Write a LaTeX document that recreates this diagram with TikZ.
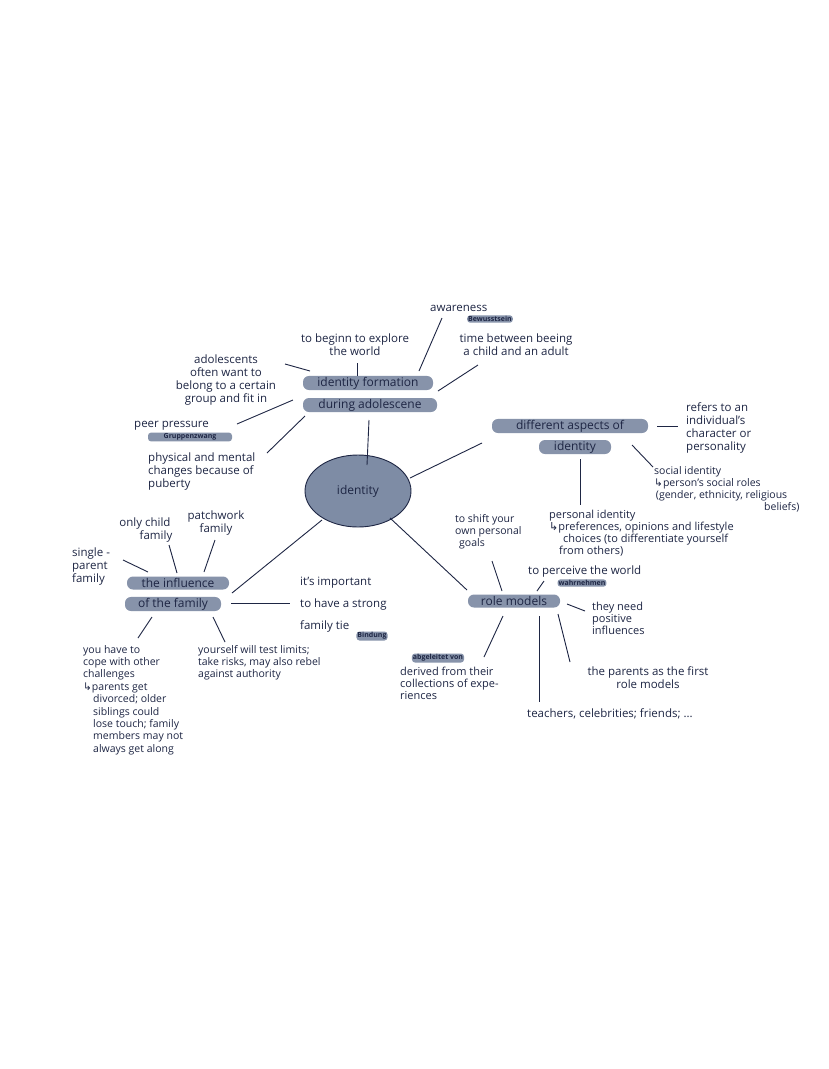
\documentclass[tikz,border=0pt]{standalone}
\usepackage{fontspec}
\usetikzlibrary{shapes.geometric}
\setmainfont{Open Sans}
\newfontfamily\sym{DejaVu Sans}
\definecolor{ink}{HTML}{1E2644}
\definecolor{hl}{HTML}{8793AA}
\definecolor{ell}{HTML}{7E8CA5}
\newcommand{\arr}{{\sym ↳}}
\begin{document}
\begin{tikzpicture}[x=1pt,y=-1pt,
  txt/.style={text=ink,font=\fontsize{11.5}{13}\selectfont,inner sep=0pt,align=left},
  ctxt/.style={txt,align=center},
  hlbox/.style={fill=hl,rounded corners=6pt,text=ink,font=\fontsize{12}{12}\selectfont,inner ysep=1pt,inner xsep=0pt,minimum height=13pt},
  smallhl/.style={fill=hl,rounded corners=3pt,text=ink,font=\fontsize{7}{7}\selectfont\bfseries,inner sep=1pt},
  ln/.style={draw=ink,line width=0.9pt}]
\useasboundingbox (0,0) rectangle (828,1069);
\fill[white] (0,0) rectangle (828,1069);
% centre
\node[ellipse,draw=ink,line width=0.9pt,fill=ell,minimum width=106,minimum height=72,text=ink,font=\fontsize{12}{12}\selectfont] (id) at (358,491) {identity};
% main nodes
\node[hlbox,minimum width=130] (f1) at (368,383) {identity formation};
\node[hlbox,minimum width=134] (f2) at (370,405) {during adolescene};
\node[hlbox,minimum width=156] (a1) at (570,426) {different aspects of};
\node[hlbox,minimum width=72] (a2) at (575,447) {identity};
\node[hlbox,minimum width=102] (i1) at (178,583) {the influence};
\node[hlbox,minimum width=96] (i2) at (173,604) {of the family};
\node[hlbox,minimum width=92] (rm) at (514,601) {role models};
% texts
\node[txt,anchor=west] (aw) at (430,308) {awareness};
\node[smallhl] (bw) at (490,319) {Bewusstsein};
\node[ctxt] (tb) at (355,345) {to beginn to explore\\ the world};
\node[ctxt] (tm) at (516,345) {time between beeing\\ a child and an adult};
\node[ctxt] (ad) at (226,380) {adolescents\\often want to\\belong to a certain\\group and fit in};
\node[txt,anchor=west] (pp) at (134,426) {peer pressure};
\node[smallhl,minimum width=84] (gz) at (190,437) {Gruppenzwang};
\node[txt,anchor=west] (ph) at (148,472) {physical and mental\\changes because of\\puberty};
\node[txt,anchor=west] (rf) at (686,428) {refers to an\\individual's\\character or\\personality};
\node[txt,anchor=west,font=\fontsize{10.5}{12}\selectfont] (si) at (654,489) {social identity\\\arr person's social roles\\\,(gender, ethnicity, religious\\\hspace*{110pt}beliefs)};
\node[txt,anchor=west,font=\fontsize{10.5}{12}\selectfont] (sh) at (455,532) {to shift your\\own personal\\\hspace*{4pt}goals};
\node[txt,anchor=west,font=\fontsize{11}{12}\selectfont] (pi) at (549,533) {personal identity\\\arr preferences, opinions and lifestyle\\\hspace*{14pt}choices (to differentiate yourself\\\hspace*{10pt}from others)};
\node[txt,anchor=west] (pw) at (528,572) {to perceive the world};
\node[smallhl] (wn) at (582,583) {wahrnehmen};
\node[txt,anchor=west,font=\fontsize{11}{12}\selectfont] (tn) at (592,618) {they need\\positive\\influences};
\node[ctxt] (pa) at (648,678) {the parents as the first\\role models};
\node[ctxt] (te) at (610,714) {teachers, celebrities; friends; ...};
\node[smallhl] (ab) at (438,658) {abgeleitet von};
\node[txt,anchor=west,font=\fontsize{11}{12}\selectfont] (de) at (400,683) {derived from their\\collections of expe-\\riences};
\node[txt,anchor=west,font=\fontsize{11.5}{22}\selectfont] (it) at (300,605) {it's important\\to have a strong\\family tie};
\node[smallhl] (bi) at (372,636) {Bindung};
\node[txt,anchor=west,font=\fontsize{10.5}{12}\selectfont] (ys) at (198,663) {yourself will test limits;\\take risks, may also rebel\\against authority};
\node[txt,anchor=west,font=\fontsize{10.5}{12.4}\selectfont] (yh) at (83,700) {you have to\\cope with other\\challenges\\\arr parents get\\\hspace*{10pt}divorced; older\\\hspace*{10pt}siblings could\\\hspace*{10pt}lose touch; family\\\hspace*{10pt}members may not\\\hspace*{10pt}always get along};
\node[ctxt] (oc) at (145,530) {only child\\\hspace*{22pt}family};
\node[ctxt] (pf) at (216,523) {patchwork\\family};
\node[txt,anchor=west] (sp) at (72,567) {single -\\parent\\family};
% connector end points
\foreach \n/\p in {c1/{367,465},c2/{369,420},c3/{410,478},c4/{482,443},c5/{390,518},c6/{467,590},
  c7/{322,520},c8/{232,593},c9/{357,363},c10/{357,376},c11/{442,318},c12/{419,371},c13/{478,365},
  c14/{438,391},c15/{285,364},c16/{310,371},c17/{237,424},c18/{293,400},c19/{267,453},c20/{305,416},
  c21/{657,426},c22/{678,426},c23/{632,445},c24/{653,467},c25/{580,459},c26/{580,505},
  c27/{123,560},c28/{148,572},c29/{169,545},c30/{177,573},c31/{215,540},c32/{204,572},
  c33/{231,603},c34/{290,603},c35/{152,617},c36/{138,638},c37/{213,617},c38/{225,642},
  c39/{492,561},c40/{502,591},c41/{537,591},c42/{544,581},c43/{567,604},c44/{585,611},
  c45/{558,614},c46/{570,662},c47/{539,616},c48/{539,702},c49/{503,616},c50/{484,657}}
  \coordinate (\n) at (\p);
\foreach \a/\b in {c1/c2,c3/c4,c5/c6,c7/c8,c9/c10,c11/c12,c13/c14,c15/c16,c17/c18,c19/c20,
  c21/c22,c23/c24,c25/c26,c27/c28,c29/c30,c31/c32,c33/c34,c35/c36,c37/c38,c39/c40,c41/c42,
  c43/c44,c45/c46,c47/c48,c49/c50}
  \draw[ln] (\a) -- (\b);
\end{tikzpicture}
\end{document}
